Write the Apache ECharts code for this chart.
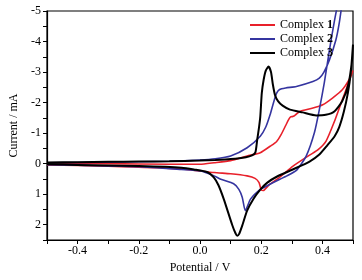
<!DOCTYPE html>
<html>
<head>
<meta charset="utf-8">
<style>
  html, body { margin: 0; padding: 0; background: #fff; }
  #cv { width: 362px; height: 280px; }
</style>
<script src="https://cdn.jsdelivr.net/npm/echarts@6/dist/echarts.min.js"></script>
</head>
<body>
<div id="cv"></div>
<script>
// [potential (V), current (mA)], forward sweep then reverse
var complex1 = [
  [-0.50, -0.01], [-0.30, 0.00], [-0.10, 0.02], [0.00, 0.02], [0.046, -0.03], [0.10, -0.10],
  [0.154, -0.25], [0.197, -0.36], [0.229, -0.57], [0.25, -0.72], [0.265, -0.95], [0.28, -1.25],
  [0.29, -1.45], [0.296, -1.53], [0.305, -1.55], [0.312, -1.60], [0.326, -1.71], [0.369, -1.82],
  [0.401, -1.93], [0.433, -2.15], [0.465, -2.42], [0.49, -2.80], [0.50, -3.05],
  [0.487, -2.69], [0.465, -2.09], [0.44, -1.40], [0.412, -0.74], [0.385, -0.45], [0.358, -0.28],
  [0.304, 0.08], [0.26, 0.45], [0.225, 0.70], [0.207, 0.88], [0.20, 0.86], [0.193, 0.62],
  [0.18, 0.48], [0.154, 0.40], [0.10, 0.33], [0.046, 0.29], [-0.06, 0.17], [-0.30, 0.08], [-0.50, 0.04]
];
var complex2 = [
  [-0.50, -0.03], [-0.30, -0.05], [-0.10, -0.08], [0.00, -0.12], [0.05, -0.16], [0.10, -0.25],
  [0.154, -0.52], [0.197, -0.90], [0.215, -1.20], [0.229, -1.60], [0.24, -1.99], [0.25, -2.30],
  [0.26, -2.43], [0.28, -2.48], [0.315, -2.53], [0.369, -2.69], [0.39, -2.80], [0.405, -3.00],
  [0.423, -3.40], [0.444, -4.05], [0.455, -4.60], [0.465, -5.30], [0.472, -5.80],
  [0.46, -5.60], [0.444, -4.92], [0.423, -3.72], [0.406, -2.64], [0.39, -1.77], [0.374, -1.02],
  [0.347, -0.25], [0.315, 0.22], [0.28, 0.42], [0.261, 0.51], [0.218, 0.73], [0.197, 0.84],
  [0.165, 1.16], [0.148, 1.54], [0.138, 1.10], [0.127, 0.84], [0.11, 0.66], [0.068, 0.51],
  [0.046, 0.40], [0.003, 0.24], [-0.061, 0.19], [-0.20, 0.10], [-0.40, 0.05], [-0.50, 0.03]
];
var complex3 = [
  [-0.50, -0.04], [-0.40, -0.05], [-0.30, -0.06], [-0.20, -0.07], [-0.10, -0.08], [0.00, -0.10],
  [0.05, -0.12], [0.10, -0.15], [0.15, -0.21], [0.17, -0.27], [0.181, -0.37], [0.187, -0.79],
  [0.193, -1.20], [0.197, -1.54], [0.202, -2.32], [0.208, -2.75], [0.215, -3.05], [0.224, -3.18],
  [0.232, -3.00], [0.238, -2.60], [0.245, -2.25], [0.255, -2.05], [0.27, -1.90], [0.294, -1.77],
  [0.335, -1.68], [0.38, -1.58], [0.411, -1.60], [0.44, -1.72], [0.465, -2.05], [0.485, -2.60],
  [0.497, -3.40], [0.50, -3.90],
  [0.493, -3.00], [0.483, -2.30], [0.47, -1.70], [0.455, -1.20], [0.44, -0.90], [0.416, -0.60],
  [0.39, -0.30], [0.358, -0.07], [0.303, 0.19], [0.252, 0.42], [0.22, 0.62], [0.197, 0.85],
  [0.175, 1.15], [0.154, 1.54], [0.138, 2.03], [0.128, 2.30], [0.122, 2.36], [0.116, 2.28],
  [0.105, 2.00], [0.078, 1.17], [0.06, 0.70], [0.045, 0.45], [0.025, 0.28], [-0.02, 0.19],
  [-0.06, 0.13], [-0.20, 0.08], [-0.40, 0.04], [-0.50, 0.02]
];
var seriesNames = ['Complex 1', 'Complex 2', 'Complex 3'];
var seriesColors = ['#e8202a', '#3535a0', '#000000'];

var font = 'Liberation Serif';
var chart = echarts.init(document.getElementById('cv'));

var option = {
  backgroundColor: '#fff',
  animation: false,
  grid: { left: 43, right: 9, top: 11, bottom: 40, show: true, borderColor: '#000', borderWidth: 1.2 },
  legend: {
    orient: 'vertical',
    left: 245, top: 14,
    itemWidth: 25, itemHeight: 2, itemGap: 2,
    icon: 'rect',
    data: seriesNames,
    formatter: function (name) {
      var parts = name.split(' ');
      return '{a|' + parts[0] + ' }{b|' + parts[1] + '}';
    },
    textStyle: {
      fontFamily: font, fontSize: 12, color: '#000',
      rich: {
        a: { fontFamily: font, fontSize: 12, color: '#000' },
        b: { fontFamily: font, fontSize: 12, color: '#000', fontWeight: 'bold' }
      }
    }
  },
  xAxis: {
    type: 'value', min: -0.5, max: 0.5, interval: 0.1,
    name: 'Potential / V', nameLocation: 'middle', nameGap: 21,
    nameTextStyle: { fontFamily: font, fontSize: 12, color: '#000' },
    axisLine: { onZero: false, lineStyle: { color: '#000', width: 1.2 } },
    axisTick: { length: 4, lineStyle: { color: '#000' } },
    splitLine: { show: false },
    axisLabel: {
      fontFamily: font, fontSize: 12, color: '#000', margin: 5,
      formatter: function (v) {
        var k = Math.round(v * 10);
        return (k % 2 === 0 && Math.abs(k) < 5) ? (k / 10).toFixed(1) : '';
      }
    }
  },
  yAxis: {
    type: 'value', inverse: true, min: -5, max: 2.5, interval: 0.5,
    name: 'Current / mA', nameLocation: 'middle', nameGap: 27,
    nameTextStyle: { fontFamily: font, fontSize: 12, color: '#000' },
    axisLine: { onZero: false, lineStyle: { color: '#000', width: 1.2 } },
    axisTick: { length: 4, lineStyle: { color: '#000' } },
    splitLine: { show: false },
    axisLabel: {
      fontFamily: font, fontSize: 12, color: '#000', margin: 6,
      formatter: function (v) {
        var k = Math.round(v * 2);
        return k % 2 === 0 ? String(k / 2) : '';
      }
    }
  },
  series: [complex1, complex2, complex3].map(function (d, i) {
    return {
      name: seriesNames[i],
      type: 'line',
      data: d,
      showSymbol: false,
      smooth: 0.2,
      clip: true,
      color: seriesColors[i],
      lineStyle: { color: seriesColors[i], width: i === 2 ? 2 : 1.6 }
    };
  })
};

chart.setOption(option);
</script>
</body>
</html>
